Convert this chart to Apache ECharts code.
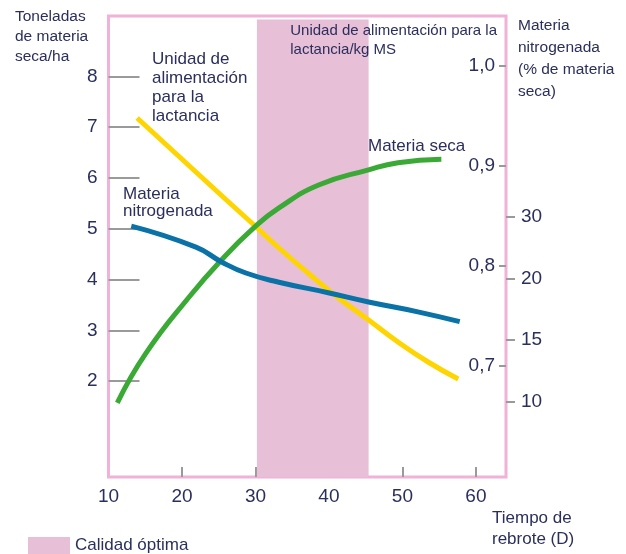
<!DOCTYPE html>
<html>
<head>
<meta charset="utf-8">
<script src="https://cdn.jsdelivr.net/npm/echarts@6/dist/echarts.min.js"></script>
<style>
  html, body { margin: 0; padding: 0; background: #fff; }
  #chart { width: 626px; height: 554px; }
</style>
</head>
<body>
<div id="chart"></div>
<script>
// tick labels
const xTicks = [10, 20, 30, 40, 50, 60]
const tonTicks = [2, 3, 4, 5, 6, 7, 8]
const kgTicks = [0.7, 0.8, 0.9, 1.0]
const pctTicks = [10, 15, 20, 30]

// optimal quality band (days)
const optimalBand = [30.2, 45.4]

// Materia seca (t MS/ha)
const dryDays = [11.2, 15.1, 21.0, 25.4, 29.8, 33.2, 38.6, 45.4, 49.4, 55.3]
const dryValues = [1.57, 2.55, 3.66, 4.39, 5.02, 5.41, 5.86, 6.16, 6.30, 6.37]

// Unidad de alimentación para la lactancia (kg MS)
const ufDays = [13.9, 17.9, 21.9, 25.9, 29.8, 33.2, 37.3, 41.3, 45.4, 49.4, 53.5, 57.6]
const ufValues = [0.948, 0.921, 0.894, 0.867, 0.841, 0.818, 0.792, 0.768, 0.746, 0.724, 0.704, 0.687]

// Materia nitrogenada (% de materia seca)
const nDays = [13.1, 21.9, 25.4, 28.7, 33.2, 39.9, 45.4, 52.1, 57.8]
const nValues = [28.5, 25.1, 22.7, 20.9, 19.7, 18.85, 18.1, 17.3, 16.5]

// the % axis has evenly spaced ticks 10, 15, 20, 30 -> piecewise linear scale
function pctToPos(v) {
  for (let i = 0; i < pctTicks.length - 1; i++) {
    const a = pctTicks[i], b = pctTicks[i + 1]
    if (v <= b || i === pctTicks.length - 2) {
      return i + (v - a) / (b - a)
    }
  }
}

const navy = '#2b2f5c'
const font = 'Liberation Sans, Arial, Helvetica, sans-serif'
const pink = '#f0b2d8'
const band = '#e7bfd7'
const tickGray = '#9a9a9a'

const chart = echarts.init(document.getElementById('chart'))

const zip = (xs, ys) => xs.map((x, i) => [x, ys[i]])

const label = (text, pos, size, extra) => Object.assign({
  type: 'text',
  z: 100,
  style: Object.assign({ text: text, font: size + 'px ' + font, fill: navy }, extra || {})
}, pos)

chart.setOption({
  animation: false,
  textStyle: { fontFamily: font, color: navy },
  grid: {
    left: 108.5,
    right: 120,
    top: 16,
    bottom: 77,
    show: true,
    borderColor: pink,
    borderWidth: 3,
    backgroundColor: 'transparent'
  },
  xAxis: {
    type: 'value',
    min: 10,
    max: 64.1,
    axisLine: { show: false, onZero: false },
    splitLine: { show: false },
    axisTick: {
      inside: true,
      length: 10,
      lineStyle: { color: tickGray, width: 2 },
      customValues: [20, 30, 40, 50, 60]
    },
    axisLabel: {
      margin: 10,
      fontSize: 19,
      color: navy,
      fontFamily: font,
      customValues: xTicks
    }
  },
  yAxis: [{
    type: 'value',
    position: 'left',
    min: 0.11,
    max: 9.19,
    axisLine: { show: false },
    splitLine: { show: false },
    axisTick: {
      inside: true,
      length: 31,
      lineStyle: { color: tickGray, width: 2 },
      customValues: tonTicks
    },
    axisLabel: {
      margin: 11,
      fontSize: 19,
      color: navy,
      fontFamily: font,
      customValues: tonTicks
    }
  }, {
    type: 'value',
    position: 'right',
    min: 0.589,
    max: 1.05,
    axisLine: { show: false },
    splitLine: { show: false },
    axisTick: {
      inside: true,
      length: 7,
      lineStyle: { color: tickGray, width: 2 },
      customValues: kgTicks
    },
    axisLabel: {
      inside: true,
      margin: 11,
      fontSize: 19,
      color: navy,
      fontFamily: font,
      customValues: kgTicks,
      formatter: v => v.toFixed(1).replace('.', ',')
    }
  }, {
    type: 'value',
    position: 'right',
    min: -1.22,
    max: 6.26,
    axisLine: { show: false },
    splitLine: { show: false },
    axisTick: {
      inside: false,
      length: 9,
      lineStyle: { color: tickGray, width: 2 },
      customValues: pctTicks.map((v, i) => i)
    },
    axisLabel: {
      margin: 15,
      fontSize: 19,
      color: navy,
      fontFamily: font,
      customValues: pctTicks.map((v, i) => i),
      formatter: v => String(pctTicks[Math.round(v)])
    }
  }],
  series: [{
    name: 'Materia seca',
    type: 'line',
    yAxisIndex: 0,
    smooth: 0.5,
    showSymbol: false,
    z: 4,
    lineStyle: { color: '#3aa935', width: 5 },
    data: zip(dryDays, dryValues),
    markArea: {
      silent: true,
      itemStyle: { color: band, opacity: 1 },
      data: [[{ xAxis: optimalBand[0], yAxis: 0 }, { xAxis: optimalBand[1], yAxis: 9.12 }]],
      z: 1
    }
  }, {
    name: 'Unidad de alimentación para la lactancia',
    type: 'line',
    yAxisIndex: 1,
    smooth: 0.5,
    showSymbol: false,
    z: 3,
    lineStyle: { color: '#ffd500', width: 5 },
    data: zip(ufDays, ufValues)
  }, {
    name: 'Materia nitrogenada',
    type: 'line',
    yAxisIndex: 2,
    smooth: 0.5,
    showSymbol: false,
    z: 5,
    lineStyle: { color: '#0a72a6', width: 5 },
    data: nDays.map((d, i) => [d, pctToPos(nValues[i])])
  }],
  graphic: [
    label('Toneladas\nde materia\nseca/ha', { left: 15, top: 7 }, 15.5, { lineHeight: 20 }),
    label('Unidad de\nalimentación\npara la\nlactancia', { left: 152, top: 50 }, 17, { lineHeight: 19 }),
    label('Materia\nnitrogenada', { left: 123, top: 186 }, 17, { lineHeight: 17 }),
    label('Materia seca', { left: 368, top: 138 }, 17),
    label('Unidad de alimentación para la\nlactancia/kg MS', { right: 129, top: 21 }, 15, { lineHeight: 19, align: 'right' }),
    label('Materia\nnitrogenada\n(% de materia\nseca)', { left: 518, top: 15 }, 15.5, { lineHeight: 22 }),
    label('Tiempo de\nrebrote (D)', { left: 492, top: 508 }, 17, { lineHeight: 21 }),
    {
      type: 'rect', left: 28, top: 537, z: 100,
      shape: { width: 42, height: 17 },
      style: { fill: band }
    },
    label('Calidad óptima', { left: 75, top: 537 }, 17)
  ]
})
</script>
</body>
</html>
